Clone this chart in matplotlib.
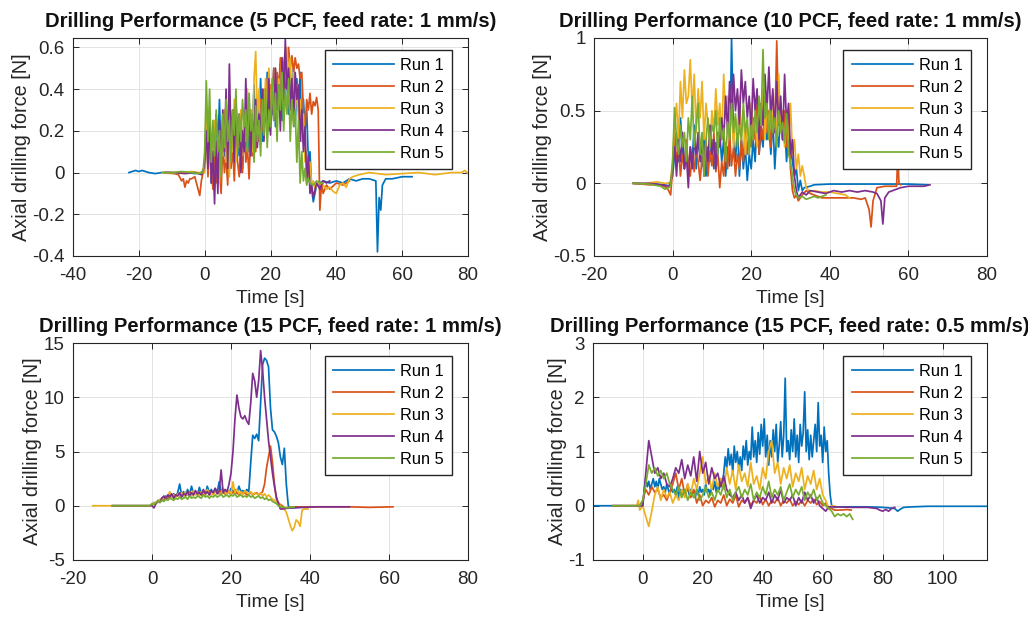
import numpy as np
import matplotlib
matplotlib.use("Agg")
import matplotlib.pyplot as plt

plt.rcParams['font.family'] = ['Liberation Sans', 'DejaVu Sans']
plt.rcParams['axes.unicode_minus'] = False

COLORS = ['#0072BD', '#D95319', '#EDB120', '#7E2F8E', '#77AC30']
RUN_LABELS = ['Run 1', 'Run 2', 'Run 3', 'Run 4', 'Run 5']

TITLES = ['Drilling Performance (5 PCF, feed rate: 1 mm/s)',
          'Drilling Performance (10 PCF, feed rate: 1 mm/s)',
          'Drilling Performance (15 PCF, feed rate: 1 mm/s)',
          'Drilling Performance (15 PCF, feed rate: 0.5 mm/s)']
XLIMS = [(-40, 80), (-20, 80), (-20, 80), (-16.6, 114.8)]
YLIMS = [(-0.4, 0.645), (-0.5, 1.0), (-5, 15), (-1, 3)]
XTICKS = [[-40, -20, 0, 20, 40, 60, 80], [-20, 0, 20, 40, 60, 80],
          [-20, 0, 20, 40, 60, 80], [0, 20, 40, 60, 80, 100]]
YTICKS = [[-0.4, -0.2, 0, 0.2, 0.4, 0.6], [-0.5, 0, 0.5, 1],
          [-5, 0, 5, 10, 15], [-1, 0, 1, 2, 3]]
YTICKLABELS = [['-0.4', '-0.2', '0', '0.2', '0.4', '0.6'], ['-0.5', '0', '0.5', '1'],
               ['-5', '0', '5', '10', '15'], ['-1', '0', '1', '2', '3']]

# ---------------- Panel 1: 5 PCF, 1 mm/s (active samples every 0.5 s from t=0) -------------
p1_dt = 0.5
p1_r1_pre_t = [-23, -21, -20, -19, -17, -15, -13, -11, -9, -7, -5, -3, -1, -0.5]
p1_r1_pre_v = [0.0, 0.01, 0.005, 0.01, 0.0, -0.005, 0.0, 0.0, -0.005, 0.0, 0.0, -0.005, 0.0, 0.01]
p1_r1_act = [0.02, 0.30, 0.10, 0.22, -0.05, 0.15, 0.05, 0.28, 0.12, 0.35, 0.02, 0.20, 0.08, 0.30,
             -0.02, 0.18, 0.10, 0.25, 0.05, 0.32, 0.15, 0.08, 0.28, 0.02, 0.22, 0.12, 0.35, 0.10,
             0.30, 0.18, 0.42, 0.12, 0.30, 0.22, 0.45, 0.15, 0.38, 0.25, 0.48, 0.20, 0.40, 0.28,
             0.50, 0.22, 0.45, 0.30, 0.52, 0.25, 0.40, 0.35, 0.55, 0.28, 0.48, 0.32, 0.50, 0.22,
             0.45, 0.30, 0.48, 0.15, 0.35, 0.20, 0.30, 0.05, 0.10, -0.08, -0.14]
p1_r1_post_t = [34, 36, 38, 40, 42, 44, 46, 48, 50, 52, 52.5, 53, 53.5, 54, 55, 57, 60, 63]
p1_r1_post_v = [-0.06, -0.04, -0.05, -0.04, -0.05, -0.03, -0.04, -0.03, -0.03, -0.04, -0.38,
                -0.12, -0.18, -0.06, -0.03, -0.03, -0.02, -0.02]

p1_r2_pre_t = [-12, -10, -8, -7, -6.5, -6, -5.5, -5, -4.5, -4, -3, -2, -1.5, -1, -0.5]
p1_r2_pre_v = [0.0, 0.0, -0.01, -0.04, -0.03, -0.07, -0.04, -0.05, -0.03, -0.03, -0.02, -0.08,
               -0.11, -0.04, 0.0]
p1_r2_act = [0.05, 0.25, -0.02, 0.15, 0.05, -0.08, 0.10, -0.05, 0.12, 0.02, -0.10, 0.15, 0.00,
             0.08, -0.06, 0.20, 0.02, 0.12, -0.04, 0.18, 0.05, -0.02, 0.15, 0.00, 0.22, 0.05,
             0.12, -0.03, 0.20, 0.08, 0.30, 0.10, 0.25, 0.15, 0.35, 0.20, 0.40, 0.25, 0.45, 0.30,
             0.42, 0.35, 0.50, 0.38, 0.48, 0.40, 0.55, 0.42, 0.52, 0.58, 0.45, 0.60, 0.50, 0.56,
             0.48, 0.55, 0.50, 0.52, 0.45, 0.48, 0.30, 0.20, 0.35, 0.30, 0.38, 0.28, 0.34, 0.32,
             0.36, 0.30, -0.18]
p1_r2_post_t = [35.5, 36, 37, 38, 40, 42, 44]
p1_r2_post_v = [-0.05, -0.10, -0.06, -0.08, -0.05, -0.06, -0.04]

p1_r3_pre_t = [-13, -10, -7, -4, -2, -0.5]
p1_r3_pre_v = [0.0, -0.005, 0.0, 0.005, 0.0, 0.0]
p1_r3_act = [0.0, 0.28, 0.05, 0.18, -0.02, 0.10, 0.25, 0.02, 0.15, -0.05, 0.20, 0.08, 0.30,
             0.05, 0.18, -0.02, 0.25, 0.10, 0.35, 0.05, 0.22, 0.12, 0.30, 0.08, 0.25, 0.15, 0.40,
             0.18, 0.30, 0.10, 0.45, 0.58, 0.25, 0.40, 0.20, 0.35, 0.28, 0.45, 0.22, 0.50, 0.30,
             0.42, 0.35, 0.50, 0.28, 0.45, 0.38, 0.55, 0.40, 0.52, 0.60, 0.45, 0.55, 0.35, 0.48,
             0.30, 0.42, 0.25, 0.35, 0.15, 0.28, 0.05, 0.10, -0.02, 0.05, -0.06, -0.04, -0.08]
p1_r3_post_t = [34.5, 36, 37, 38, 39, 40, 41, 42, 43, 44, 45, 47, 50, 55, 60, 65, 70, 75, 78,
                79, 80]
p1_r3_post_v = [-0.05, -0.06, -0.08, -0.07, -0.09, -0.10, -0.06, -0.05, -0.07, -0.03, -0.02,
                -0.01, 0.0, -0.01, -0.005, 0.0, -0.01, 0.0, 0.0, 0.01, -0.005]

p1_r4_pre_t = [-12, -9, -6, -3, -1, -0.5]
p1_r4_pre_v = [0.0, 0.0, -0.005, 0.0, -0.01, 0.0]
p1_r4_act = [0.05, 0.20, 0.02, 0.28, -0.05, 0.10, -0.15, 0.15, -0.10, 0.25, 0.05, 0.30, 0.10,
             0.40, 0.02, 0.52, 0.15, 0.30, 0.05, 0.35, 0.12, 0.28, 0.00, 0.20, 0.10, 0.45, 0.15,
             0.30, 0.08, 0.25, 0.18, 0.35, 0.12, 0.28, 0.20, 0.40, 0.15, 0.32, 0.22, 0.45, 0.18,
             0.38, 0.25, 0.50, 0.30, 0.42, 0.20, 0.55, 0.35, 0.64, 0.40, 0.50, 0.30, 0.45, 0.25,
             0.48, 0.35, 0.42, 0.15, 0.30, 0.10, 0.22, -0.05, 0.08, -0.10]
p1_r4_post_t = [32.5, 33, 34, 35, 36, 37, 38]
p1_r4_post_v = [-0.06, -0.12, -0.05, -0.08, -0.04, -0.05, -0.04]

p1_r5_pre_t = [-13, -10, -7, -4, -2, -0.5]
p1_r5_pre_v = [0.0, 0.0, 0.005, 0.0, -0.005, 0.0]
p1_r5_act = [0.10, 0.44, 0.15, 0.40, 0.05, 0.25, 0.08, 0.30, 0.10, 0.20, -0.02, 0.28, 0.12,
             0.35, 0.15, 0.25, 0.05, 0.30, 0.18, 0.40, 0.10, 0.28, 0.15, 0.35, 0.22, 0.30, 0.10,
             0.38, 0.20, 0.28, 0.05, 0.32, 0.15, 0.25, 0.08, 0.35, 0.18, 0.40, 0.12, 0.30, 0.22,
             0.45, 0.25, 0.38, 0.15, 0.42, 0.30, 0.48, 0.20, 0.40, 0.28, 0.45, 0.15, 0.35, 0.22,
             0.30, 0.05, 0.25, -0.05, 0.10, -0.04, 0.02, -0.06]
p1_r5_post_t = [31.5, 32, 33, 34, 35, 36]
p1_r5_post_v = [-0.03, -0.05, -0.06, -0.04, -0.05, -0.05]

# ---------------- Panel 2: 10 PCF, 1 mm/s ----------------
p2_dt = 0.5
p2_r1_pre_t = [-10, -7, -5, -3, -1, -0.5]
p2_r1_pre_v = [0.0, -0.005, 0.0, -0.01, 0.0, 0.01]
p2_r1_act = [0.05, 0.20, 0.35, 0.15, 0.45, 0.25, 0.10, 0.30, 0.05, 0.25, 0.15, 0.40, 0.10, 0.30,
             0.20, 0.12, 0.35, 0.05, 0.25, 0.15, 0.30, 0.10, 0.28, 0.20, 0.35, 0.15, 0.30, 0.05,
             0.25, 0.12, 1.00, 0.30, 0.15, 0.40, 0.05, 0.30, 0.10, 0.25, 0.02, 0.20, 0.10, 0.30,
             0.15, 0.45, 0.20, 0.35, 0.25, 0.50, 0.30, 0.40, 0.20, 0.45, 0.10, 0.35, 0.25, 0.50,
             0.30, 0.40, 0.15, 0.35, 0.25, 0.15, 0.05, 0.10, -0.05, 0.02, -0.05]
p2_r1_post_t = [33.5, 35, 36, 40, 45, 50, 55, 60, 65]
p2_r1_post_v = [-0.03, -0.02, -0.01, -0.005, -0.005, -0.005, -0.005, -0.005, -0.01]

p2_r2_pre_t = [-10, -6, -3, -1.5, -1, -0.5]
p2_r2_pre_v = [0.0, -0.01, -0.01, -0.03, -0.05, -0.08]
p2_r2_act = [0.10, 0.35, 0.15, 0.25, 0.05, 0.20, 0.10, 0.30, 0.12, 0.05, 0.20, 0.08, 0.25, 0.15,
             0.02, 0.18, 0.10, 0.30, 0.05, 0.22, 0.12, 0.35, 0.08, 0.20, -0.03, 0.15, 0.05, 0.28,
             0.10, 0.35, 0.12, 0.25, 0.05, 0.20, 0.10, 0.30, 0.15, 0.40, 0.20, 0.35, 0.25, 0.45,
             0.30, 0.55, 0.20, 0.40, 0.30, 0.60, 0.35, 0.50, 0.25, 0.45, 0.35, 0.98, 0.40, 0.55,
             0.30, 0.50, 0.25, 0.45, 0.10, -0.05, -0.10]
p2_r2_post_t = [31.5, 32, 33, 34, 35, 36, 38, 40, 42, 44, 46, 48, 49, 50, 50.5, 51, 52, 54, 56,
                57, 57.3, 57.6, 58]
p2_r2_post_v = [-0.08, -0.12, -0.08, -0.05, -0.07, -0.08, -0.10, -0.10, -0.10, -0.10, -0.10,
                -0.11, -0.10, -0.18, -0.30, -0.12, -0.03, -0.02, -0.02, -0.02, 0.20, 0.0, -0.01]

p2_r3_pre_t = [-10, -7, -4, -2, -1, -0.5]
p2_r3_pre_v = [0.0, 0.0, 0.01, 0.0, 0.0, 0.02]
p2_r3_act = [0.15, 0.40, 0.55, 0.30, 0.70, 0.45, 0.78, 0.55, 0.60, 0.85, 0.50, 0.75, 0.35, 0.65,
             0.45, 0.70, 0.30, 0.55, 0.40, 0.25, 0.50, 0.35, 0.65, 0.40, 0.55, 0.30, 0.75, 0.45,
             0.60, 0.35, 0.50, 0.25, 0.45, 0.35, 0.60, 0.30, 0.50, 0.20, 0.40, 0.30, 0.55, 0.35,
             0.45, 0.25, 0.50, 0.40, 0.65, 0.30, 0.55, 0.35, 0.60, 0.40, 0.50, 0.30, 0.75, 0.35,
             0.50, 0.25, 0.45, 0.30, 0.55, 0.20, 0.30, 0.10, 0.20, 0.05, 0.12]
p2_r3_post_t = [33.5, 34, 35, 36, 38, 40, 42, 44, 45]
p2_r3_post_v = [0.05, -0.03, -0.06, -0.05, -0.06, -0.06, -0.07, -0.08, -0.10]

p2_r4_pre_t = [-10, -6, -3, -1, -0.5]
p2_r4_pre_v = [0.0, 0.0, -0.01, -0.02, 0.0]
p2_r4_act = [0.10, 0.25, 0.05, 0.30, 0.15, 0.35, 0.10, 0.20, -0.03, 0.25, 0.10, 0.30, 0.20, 0.35,
             0.15, 0.30, 0.05, 0.25, 0.15, 0.40, 0.20, 0.30, 0.10, 0.35, 0.25, 0.45, 0.30, 0.60,
             0.35, 0.70, 0.45, 0.75, 0.50, 0.65, 0.40, 0.78, 0.55, 0.70, 0.45, 0.60, 0.35, 0.72,
             0.50, 0.65, 0.30, 0.55, 0.40, 0.75, 0.50, 0.80, 0.45, 0.65, 0.35, 0.70, 0.40, 0.60,
             0.30, 0.75, 0.40, 0.55, 0.20, 0.30, 0.05]
p2_r4_post_t = [31.5, 32, 33, 34, 35, 37, 39, 41, 43, 45, 47, 49, 51, 52, 53, 53.5, 54, 55, 56,
                58, 60, 62, 64, 65.5]
p2_r4_post_v = [-0.05, -0.10, -0.06, -0.08, -0.05, -0.06, -0.07, -0.05, -0.06, -0.05, -0.06,
                -0.05, -0.06, -0.07, -0.12, -0.28, -0.10, -0.06, -0.05, -0.03, -0.02, -0.02,
                -0.02, -0.01]

p2_r5_pre_t = [-10, -6, -3, -2, -1, -0.5]
p2_r5_pre_v = [0.0, -0.005, -0.02, -0.04, -0.03, -0.02]
p2_r5_act = [0.15, 0.52, 0.30, 0.20, 0.40, 0.25, 0.35, 0.15, 0.45, 0.30, 0.60, 0.25, 0.40, 0.55,
             0.20, 0.35, 0.05, 0.30, 0.45, 0.25, 0.40, 0.35, 0.50, 0.20, 0.45, 0.30, 0.38, 0.15,
             0.42, 0.30, 0.55, 0.35, 0.48, 0.25, 0.40, 0.30, 0.55, 0.35, 0.45, 0.20, 0.40, 0.30,
             0.50, 0.35, 0.60, 0.40, 0.92, 0.45, 0.55, 0.30, 0.50, 0.35, 0.45, 0.25, 0.50, 0.35,
             0.42, 0.28, 0.48, 0.20, 0.15, 0.05, -0.05]
p2_r5_post_t = [31.5, 32, 33, 34, 35, 36, 37, 38, 39]
p2_r5_post_v = [-0.08, -0.10, -0.09, -0.11, -0.10, -0.09, -0.10, -0.09, -0.08]

# ---------------- Panel 3: 15 PCF, 1 mm/s ----------------
p3_dt = 0.5
p3_r1_pre_t = [-10, -5, -1, -0.5]
p3_r1_pre_v = [0.0, 0.0, 0.0, 0.0]
p3_r1_act = [0.1, 0.3, 0.2, 0.5, 0.4, 0.7, 0.6, 0.9, 0.7, 1.0,
             0.8, 1.1, 0.9, 1.2, 2.0, 1.0, 1.3, 0.9, 1.5, 1.0,
             1.8, 1.1, 1.3, 1.0, 1.7, 1.1, 1.4, 1.0, 1.8, 1.2,
             1.5, 1.1, 1.6, 1.2, 2.2, 1.3, 1.5, 1.1, 1.4, 1.2,
             1.6, 1.3, 1.5, 1.2, 1.8, 1.3, 1.4, 1.2, 1.5, 1.3,
             4.0, 6.5, 6.2, 6.6, 6.0, 9.5, 13.0, 13.6, 13.4, 12.8,
             9.0, 7.0, 6.8, 6.4, 5.8, 4.5, 3.8, 5.3, 2.0, 0.0]
p3_r1_post_t = [35, 37, 40]
p3_r1_post_v = [-0.2, -0.15, -0.1]

p3_r2_pre_t = [-10, -5, -1, -0.5]
p3_r2_pre_v = [0.0, 0.0, 0.0, 0.0]
p3_r2_act = [0.1, 0.2, 0.3, 0.4, 0.5, 0.6, 0.5, 0.8, 0.7, 0.9,
             0.8, 1.0, 0.9, 1.1, 0.9, 1.2, 1.0, 1.1, 1.0, 1.3,
             1.1, 1.0, 1.2, 1.1, 1.3, 1.0, 1.2, 1.1, 1.4, 1.0,
             1.2, 1.1, 1.3, 1.2, 1.1, 1.4, 1.2, 1.1, 1.3, 1.2,
             1.0, 1.3, 1.1, 1.2, 1.0, 1.3, 1.1, 1.2, 1.0, 1.1,
             1.2, 1.0, 1.1, 1.2, 1.0, 1.1, 1.3, 2.0, 3.5, 4.5,
             5.5, 4.0, 2.0, 0.6, 0.3, 0.1, 0.0]
p3_r2_post_t = [33.5, 36, 40, 45, 50, 55, 61]
p3_r2_post_v = [-0.2, -0.1, -0.1, -0.1, -0.1, -0.15, -0.1]

p3_r3_pre_t = [-15, -10, -5, -1, -0.5]
p3_r3_pre_v = [0.0, 0.0, 0.0, 0.0, 0.0]
p3_r3_act = [0.1, 0.3, 0.2, 0.4, 0.6, 0.5, 0.8, 0.6, 0.9, 1.3,
             0.7, 1.0, 0.8, 1.1, 0.9, 1.2, 0.8, 1.3, 1.0, 1.1,
             0.9, 1.4, 1.0, 1.2, 0.9, 1.3, 1.1, 1.0, 1.5, 1.1,
             1.2, 1.0, 1.4, 1.1, 1.3, 1.0, 1.6, 1.2, 1.1, 1.4,
             1.0, 2.2, 1.2, 1.5, 1.1, 1.3, 1.0, 1.4, 1.2, 1.1,
             1.3, 1.0, 1.2, 1.1, 1.0, 1.2, 0.9, 1.1, 0.8, 1.0,
             0.8, 0.6, 0.5, 0.3, 0.2, 0.0, -0.2, -0.3, -0.6, -1.2,
             -1.8, -2.3, -2.0, -1.3, -1.5, -1.9, -0.4, -0.3, -0.3, -0.3]
p3_r3_post_t = []
p3_r3_post_v = []

p3_r4_pre_t = [-10, -5, -1, -0.5]
p3_r4_pre_v = [0.0, 0.0, 0.0, 0.0]
p3_r4_act = [0.0, -0.2, 0.2, 0.4, 0.3, 0.7, 0.9, 0.6, 1.0, 0.8,
             1.1, 0.7, 1.0, 0.9, 1.2, 0.8, 1.1, 1.0, 1.3, 0.9,
             1.2, 1.0, 1.4, 1.1, 1.2, 1.0, 1.5, 1.1, 1.3, 1.0,
             1.4, 1.2, 1.6, 1.1, 1.3, 3.3, 1.2, 1.5, 1.3, 2.0,
             3.0, 5.0, 8.0, 10.2, 9.0, 8.2, 8.0, 8.3, 7.8, 7.5,
             9.5, 12.2, 11.5, 10.0, 11.5, 14.3, 12.5, 10.0, 8.0, 6.0,
             4.5, 3.0, 1.8, 0.8, 0.2, -0.3]
p3_r4_post_t = [33, 35, 38, 42, 46, 50]
p3_r4_post_v = [-0.3, -0.2, -0.15, -0.1, -0.1, -0.1]

p3_r5_pre_t = [-10, -5, -1, -0.5]
p3_r5_pre_v = [0.0, 0.0, 0.0, 0.0]
p3_r5_act = [0.2, 0.1, 0.3, 0.4, 0.3, 0.5, 0.4, 0.6, 0.5, 0.7,
             0.6, 0.5, 0.7, 0.6, 0.8, 0.6, 0.7, 0.8, 0.6, 0.9,
             0.7, 0.8, 0.7, 0.9, 0.8, 0.7, 1.0, 0.8, 0.9, 0.7,
             0.9, 0.8, 1.0, 0.8, 0.9, 1.1, 0.8, 0.9, 1.0, 0.8,
             1.0, 0.9, 1.1, 0.8, 0.9, 1.0, 0.8, 0.9, 0.8, 1.0,
             0.8, 0.9, 0.7, 0.8, 0.9, 0.7, 0.8, 0.6, 0.7, 0.5,
             0.6, 0.4, 0.3, 0.2, 0.0, -0.1]
p3_r5_post_t = [33, 34, 36]
p3_r5_post_v = [-0.1, -0.2, -0.1]

# ---------------- Panel 4: 15 PCF, 0.5 mm/s ----------------
p4_dt = 1.0        # sample step of runs 2-5
p4_r1_dt = 0.5     # sample step of run 1
p4_r1_pre_t = [-16.6, -10, -5, -2, -1]
p4_r1_pre_v = [0.0, 0.0, 0.0, 0.0, 0.0]
p4_r1_act = [0.0, 0.3, 0.5, 0.35, 0.45, 0.3, 0.4, 0.5, 0.35, 0.45, 0.3, 0.5, 0.4, 0.3, 0.35,
             0.25, 0.4, 0.3, 0.2, 0.35, 0.25, 0.3, 0.2, 0.35, 0.15, 0.3, 0.2,
             0.3, 0.18, 0.25, 0.35, 0.2, 0.3, 0.22, 0.28, 0.15, 0.3, 0.2, 0.35, 0.25, 0.3,
             0.2, 0.4, 0.25, 0.3, 0.2, 0.35, 0.3, 0.45, 0.25, 0.4, 0.3, 0.5, 0.35,
             0.6, 0.9, 0.7, 1.05, 0.75, 0.95, 0.6, 1.1, 0.8, 1.0, 0.7, 0.9, 0.65, 1.1, 0.85,
             1.2, 0.75, 1.0, 0.85, 1.45, 0.9, 1.2, 0.8, 1.35, 0.95, 1.5, 1.1,
             1.6, 0.9, 1.3, 0.75, 1.2, 0.9, 1.4, 1.0, 1.5, 0.8, 1.1, 1.55, 0.9, 1.3, 2.35,
             1.0, 1.2, 0.85, 1.4, 1.0, 1.6, 0.9, 1.3, 0.8, 1.5, 1.1, 1.35,
             2.1, 1.0, 1.4, 0.85, 1.3, 0.9, 1.2, 1.5, 1.0, 1.9, 1.1, 1.3, 0.8, 1.45, 1.0, 1.2,
             0.6, 0.2, 0.0]
p4_r1_post_t = [64, 66, 70, 75, 80, 84, 85, 86, 87, 90, 95, 100, 105, 110, 114.8]
p4_r1_post_v = [-0.03, -0.02, -0.02, -0.02, -0.03, -0.05, -0.1, -0.06, -0.03, -0.02, -0.01,
                -0.01, -0.01, -0.01, -0.01]

p4_r2_pre_t = [-10, -5, -2, -1]
p4_r2_pre_v = [0.0, 0.0, 0.0, 0.0]
p4_r2_act = [0.1, 0.3, 0.2, 0.35, 0.25, 0.3, 0.15, 0.2, 0.1, 0.25, 0.4, 0.6, 0.3, 0.5, 0.2, 0.4,
             0.15, 0.3, 0.05, 0.2, 0.0, 0.1, 0.05, 0.15, -0.02, 0.1, 0.05, 0.2, 0.0, 0.12, 0.05,
             0.2, -0.02, 0.1, 0.05, 0.15, 0.0, 0.1, 0.05, 0.18, 0.02, 0.12, 0.0, 0.1, 0.05, 0.15,
             0.0, 0.1, 0.05, 0.12, 0.0, 0.08, 0.02, 0.1, 0.0, 0.1, 0.05, 0.12, 0.02, 0.08, 0.0,
             0.05, -0.05, -0.05]
p4_r2_post_t = [64, 66, 68, 69.5]
p4_r2_post_v = [-0.08, -0.08, -0.07, -0.08]

p4_r3_pre_t = [-10, -5, -2, -1.5, -1]
p4_r3_pre_v = [0.0, 0.0, 0.0, 0.1, -0.08]
p4_r3_act = [0.0, -0.2, -0.38, -0.1, 0.2, 0.35, 0.1, 0.3, 0.15, 0.25, 0.05, 0.2, 0.1, 0.3, 0.15,
             0.4, 0.2, 0.5, 0.3, 0.6, 0.9, 0.4, 0.55, 0.3, 0.6, 0.35, 0.5, 0.3, 0.7, 0.4, 0.65,
             0.3, 0.75, 0.45, 0.6, 0.35, 0.8, 0.4, 0.55, 0.3, 0.7, 0.5, 1.0, 1.2, 0.6, 0.8, 0.4,
             0.7, 0.5, 0.75, 0.35, 0.6, 0.45, 0.7, 0.3, 0.55, 0.4, 0.65, 0.3, 0.5, 0.2, 0.1, -0.05]
p4_r3_post_t = [63, 65]
p4_r3_post_v = [0.0, -0.02]

p4_r4_pre_t = [-10, -5, -2, -1]
p4_r4_pre_v = [0.0, 0.0, 0.0, 0.0]
p4_r4_act = [0.0, 0.6, 1.2, 0.9, 0.6, 0.7, 0.5, 0.6, 0.4, 0.35, 0.5, 0.7, 0.6, 0.85, 0.5, 0.75,
             0.55, 0.9, 0.45, 1.0, 0.6, 0.8, 0.4, 0.7, 0.5, 0.6, 0.35, 0.55, 0.3, 0.2, 0.15, 0.25,
             0.1, 0.2, 0.05, 0.15, -0.05, 0.1, 0.2, 0.05, 0.15, 0.1, 0.25, 0.05, 0.2, 0.1, 0.3,
             0.05, 0.15, 0.1, 0.2, 0.0, 0.15, 0.05, 0.25, 0.1, 0.2, 0.05, 0.15, 0.0, -0.05, -0.1,
             -0.02, -0.02]
p4_r4_post_t = [64, 70, 75, 78, 79, 80, 81, 82, 83, 84]
p4_r4_post_v = [-0.02, -0.03, -0.03, -0.05, -0.08, -0.1, -0.07, -0.1, -0.05, -0.03]

p4_r5_pre_t = [-10, -5, -2, -1]
p4_r5_pre_v = [0.0, 0.0, 0.0, 0.0]
p4_r5_act = [0.1, 0.4, 0.75, 0.6, 0.7, 0.55, 0.65, 0.5, 0.6, 0.4, 0.3, 0.2, 0.35, 0.15, 0.3, 0.1,
             0.25, 0.15, 0.3, 0.1, 0.2, 0.35, 0.15, 0.25, 0.1, 0.3, 0.2, 0.4, 0.15, 0.3, 0.1,
             0.25, 0.35, 0.15, 0.3, 0.2, 0.4, 0.1, 0.25, 0.15, 0.35, 0.2, 0.45, 0.15, 0.3, 0.2,
             0.35, 0.1, 0.25, 0.4, 0.15, 0.3, 0.2, 0.35, 0.1, 0.25, 0.15, 0.3, 0.1, 0.2, 0.05,
             0.0, -0.05, -0.1]
p4_r5_post_t = [64, 65, 66, 67, 68, 69, 70]
p4_r5_post_v = [-0.2, -0.15, -0.18, -0.15, -0.2, -0.15, -0.25]


def build(pre_t, pre_v, dt, act, post_t, post_v):
    t_act = dt * np.arange(len(act))
    t = np.concatenate([np.asarray(pre_t, float), t_act, np.asarray(post_t, float)])
    v = np.concatenate([np.asarray(pre_v, float), np.asarray(act, float),
                        np.asarray(post_v, float)])
    return t, v


panels = [
    [(p1_r1_pre_t, p1_r1_pre_v, p1_dt, p1_r1_act, p1_r1_post_t, p1_r1_post_v),
     (p1_r2_pre_t, p1_r2_pre_v, p1_dt, p1_r2_act, p1_r2_post_t, p1_r2_post_v),
     (p1_r3_pre_t, p1_r3_pre_v, p1_dt, p1_r3_act, p1_r3_post_t, p1_r3_post_v),
     (p1_r4_pre_t, p1_r4_pre_v, p1_dt, p1_r4_act, p1_r4_post_t, p1_r4_post_v),
     (p1_r5_pre_t, p1_r5_pre_v, p1_dt, p1_r5_act, p1_r5_post_t, p1_r5_post_v)],
    [(p2_r1_pre_t, p2_r1_pre_v, p2_dt, p2_r1_act, p2_r1_post_t, p2_r1_post_v),
     (p2_r2_pre_t, p2_r2_pre_v, p2_dt, p2_r2_act, p2_r2_post_t, p2_r2_post_v),
     (p2_r3_pre_t, p2_r3_pre_v, p2_dt, p2_r3_act, p2_r3_post_t, p2_r3_post_v),
     (p2_r4_pre_t, p2_r4_pre_v, p2_dt, p2_r4_act, p2_r4_post_t, p2_r4_post_v),
     (p2_r5_pre_t, p2_r5_pre_v, p2_dt, p2_r5_act, p2_r5_post_t, p2_r5_post_v)],
    [(p3_r1_pre_t, p3_r1_pre_v, p3_dt, p3_r1_act, p3_r1_post_t, p3_r1_post_v),
     (p3_r2_pre_t, p3_r2_pre_v, p3_dt, p3_r2_act, p3_r2_post_t, p3_r2_post_v),
     (p3_r3_pre_t, p3_r3_pre_v, p3_dt, p3_r3_act, p3_r3_post_t, p3_r3_post_v),
     (p3_r4_pre_t, p3_r4_pre_v, p3_dt, p3_r4_act, p3_r4_post_t, p3_r4_post_v),
     (p3_r5_pre_t, p3_r5_pre_v, p3_dt, p3_r5_act, p3_r5_post_t, p3_r5_post_v)],
    [(p4_r1_pre_t, p4_r1_pre_v, p4_r1_dt, p4_r1_act, p4_r1_post_t, p4_r1_post_v),
     (p4_r2_pre_t, p4_r2_pre_v, p4_dt, p4_r2_act, p4_r2_post_t, p4_r2_post_v),
     (p4_r3_pre_t, p4_r3_pre_v, p4_dt, p4_r3_act, p4_r3_post_t, p4_r3_post_v),
     (p4_r4_pre_t, p4_r4_pre_v, p4_dt, p4_r4_act, p4_r4_post_t, p4_r4_post_v),
     (p4_r5_pre_t, p4_r5_pre_v, p4_dt, p4_r5_act, p4_r5_post_t, p4_r5_post_v)],
]

W, H = 1028, 617
fig = plt.figure(figsize=(W / 100, H / 100), dpi=100)
fig.patch.set_facecolor('white')

# axes boxes in pixels: (left, top, right, bottom)
boxes = [(73, 38, 468, 256), (594, 38, 987, 256), (73, 343, 468, 560), (593, 343, 987, 560)]
leg_anchor = [(0.96, 0.945), (0.959, 0.945), (0.96, 0.94), (0.959, 0.94)]

edge = '#262626'
for i, runs in enumerate(panels):
    l, t, r, b = boxes[i]
    ax = fig.add_axes([l / W, (H - b) / H, (r - l) / W, (b - t) / H])
    for k, (pt, pv, dt, act, qt, qv) in enumerate(runs):
        tt, vv = build(pt, pv, dt, act, qt, qv)
        ax.plot(tt, vv, color=COLORS[k], lw=1.25, label=RUN_LABELS[k])
    ax.set_xlim(*XLIMS[i])
    ax.set_ylim(*YLIMS[i])
    ax.set_xticks(XTICKS[i])
    ax.set_yticks(YTICKS[i])
    ax.set_yticklabels(YTICKLABELS[i])
    ax.grid(True, color='#e3e3e3', lw=0.7)
    ax.set_axisbelow(True)
    ax.tick_params(direction='in', length=4, width=0.7, top=True, right=True,
                   labelsize=13.5, colors=edge)
    ax.tick_params(axis='x', pad=8)
    ax.tick_params(axis='y', pad=6)
    for s in ax.spines.values():
        s.set_color(edge)
        s.set_linewidth(0.8)
    ax.set_title(TITLES[i], fontsize=14.6, fontweight='bold', pad=8, color='#111111')
    ax.set_xlabel('Time [s]', fontsize=14, color=edge, labelpad=4)
    ax.set_ylabel('Axial drilling force [N]', fontsize=14.3, color=edge, labelpad=1)
    leg = ax.legend(loc='upper right', bbox_to_anchor=leg_anchor[i], fontsize=11.8,
                    handlelength=3.75, labelspacing=0.42, borderpad=0.5, handletextpad=0.35,
                    fancybox=False, framealpha=1, edgecolor=edge, borderaxespad=0)
    leg.get_frame().set_linewidth(1.0)

fig.savefig('out.png', dpi=100, facecolor='white')
